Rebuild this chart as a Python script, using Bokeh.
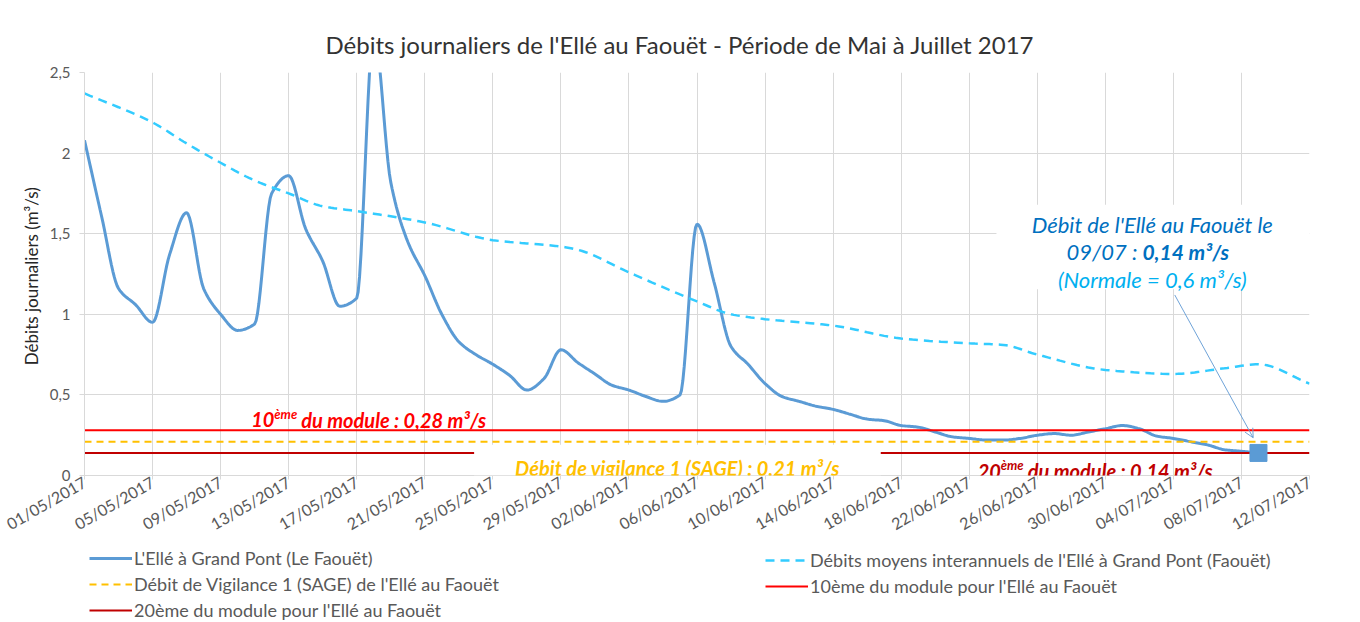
import math
from datetime import datetime
from bokeh.plotting import figure
from bokeh.layouts import column
from bokeh.models import (Range1d, FixedTicker, DatetimeTickFormatter, Legend, LegendItem,
                          Label, Arrow, OpenHead, BoxAnnotation)
from bokeh.embed import file_html
from bokeh.resources import INLINE

# ---------------- data ----------------
TITLE = "Débits journaliers de l'Ellé au Faouët - Période de Mai à Juillet 2017"
Y_LABEL = "Débits journaliers  (m³/s)"

FLOW_START = "01/05/2017"
# daily flow, L'Ellé à Grand Pont, 01/05/2017 -> 09/07/2017
FLOW_ELLE = [2.08, 1.61, 1.16, 1.06, 0.95, 1.37, 1.63, 1.16, 1.00, 0.90,
             0.94, 1.75, 1.86, 1.53, 1.33, 1.05, 1.10, 2.75, 1.82, 1.45,
             1.24, 1.00, 0.83, 0.75, 0.69, 0.62, 0.53, 0.60, 0.78, 0.70,
             0.63, 0.56, 0.53, 0.49, 0.46, 0.50, 1.56, 1.20, 0.80, 0.69,
             0.57, 0.49, 0.46, 0.43, 0.41, 0.38, 0.35, 0.34, 0.31, 0.30,
             0.27, 0.24, 0.23, 0.22, 0.22, 0.23, 0.25, 0.26, 0.25, 0.27,
             0.29, 0.31, 0.29, 0.245, 0.23, 0.21, 0.19, 0.16, 0.15, 0.14]

NORMAL_DATES = ["01/05/2017", "05/05/2017", "07/05/2017", "09/05/2017", "11/05/2017",
                "13/05/2017", "15/05/2017", "17/05/2017", "21/05/2017", "25/05/2017",
                "29/05/2017", "30/05/2017", "02/06/2017", "06/06/2017", "08/06/2017",
                "10/06/2017", "14/06/2017", "18/06/2017", "22/06/2017", "24/06/2017",
                "26/06/2017", "30/06/2017", "04/07/2017", "07/07/2017", "09/07/2017",
                "12/07/2017"]
NORMAL_FLOW = [2.37, 2.19, 2.06, 1.94, 1.83, 1.75, 1.67, 1.64, 1.57, 1.46,
               1.42, 1.40, 1.26, 1.08, 1.00, 0.97, 0.93, 0.85, 0.82, 0.81,
               0.75, 0.655, 0.63, 0.665, 0.69, 0.57]

VIGILANCE = 0.21
MODULE_10 = 0.28
MODULE_20 = 0.14

X_TICKS = ["01/05/2017", "05/05/2017", "09/05/2017", "13/05/2017", "17/05/2017",
           "21/05/2017", "25/05/2017", "29/05/2017", "02/06/2017", "06/06/2017",
           "10/06/2017", "14/06/2017", "18/06/2017", "22/06/2017", "26/06/2017",
           "30/06/2017", "04/07/2017", "08/07/2017", "12/07/2017"]
Y_TICKS = [0, 0.5, 1, 1.5, 2, 2.5]
Y_TICK_LABELS = ["0", "0,5", "1", "1,5", "2", "2,5"]

SERIES = ["L'Ellé à Grand Pont (Le Faouët)",
          "Débits moyens interannuels de l'Ellé à Grand Pont (Faouët)",
          "Débit de Vigilance 1 (SAGE) de l'Ellé au Faouët",
          "10ème du module pour l'Ellé au Faouët",
          "20ème du module pour l'Ellé au Faouët"]

# ---------------- helpers ----------------
DAY_MS = 86400000.0
EPOCH = datetime(1970, 1, 1)


def to_ms(s):
    return (datetime.strptime(s, "%d/%m/%Y") - EPOCH).total_seconds() * 1000.0


START_MS = to_ms(FLOW_START)


def day_ms(d):
    return START_MS + d * DAY_MS


def smooth(xd, yd, n=12):
    """monotone cubic (PCHIP) smoothing of the polyline, for a smoothed-line look"""
    m = len(xd)
    h = [xd[i + 1] - xd[i] for i in range(m - 1)]
    d = [(yd[i + 1] - yd[i]) / h[i] for i in range(m - 1)]
    tang = [0.0] * m
    tang[0] = d[0]
    tang[-1] = d[-1]
    for k in range(1, m - 1):
        if d[k - 1] * d[k] <= 0:
            tang[k] = 0.0
        else:
            w1 = 2 * h[k] + h[k - 1]
            w2 = h[k] + 2 * h[k - 1]
            tang[k] = (w1 + w2) / (w1 / d[k - 1] + w2 / d[k])
    xs, ys = [], []
    for i in range(m - 1):
        hi = h[i]
        for k in range(n):
            t = k / n
            h00 = 2 * t**3 - 3 * t**2 + 1
            h10 = t**3 - 2 * t**2 + t
            h01 = -2 * t**3 + 3 * t**2
            h11 = t**3 - t**2
            xs.append(xd[i] + t * hi)
            ys.append(h00 * yd[i] + h10 * hi * tang[i] + h01 * yd[i + 1] + h11 * hi * tang[i + 1])
    xs.append(xd[-1])
    ys.append(yd[-1])
    return xs, ys


flow_days = [float(i) for i in range(len(FLOW_ELLE))]
fx, fy = smooth(flow_days, FLOW_ELLE)
fx = [day_ms(v) for v in fx]

norm_days = [(to_ms(s) - START_MS) / DAY_MS for s in NORMAL_DATES]
nx, ny = smooth(norm_days, NORMAL_FLOW)
nx = [day_ms(v) for v in nx]

x0 = to_ms(X_TICKS[0])
x1 = to_ms(X_TICKS[-1])

FONT = "Lato"
C_FLOW = "#5b9bd5"
C_NORM = "#33ccff"
C_VIG = "#ffc000"
C_M10 = "#ff0000"
C_M20 = "#c00000"

# ---------------- main figure ----------------
p = figure(width=1360, height=544, x_axis_type="datetime",
           output_backend="svg", toolbar_location=None,
           x_range=Range1d(x0, x1), y_range=Range1d(0, 2.5),
           min_border_left=84, min_border_right=51, min_border_top=72,
           min_border_bottom=66)
p.outline_line_color = None

p.title.text = TITLE
p.title.align = "left"
p.title.offset = 241
p.title.standoff = 27
p.title.text_font = FONT
p.title.text_font_size = "24px"
p.title.text_font_style = "normal"
p.title.text_color = "#333333"

tick_ms = [to_ms(s) for s in X_TICKS]
p.xaxis.ticker = FixedTicker(ticks=tick_ms)
p.xgrid.ticker = FixedTicker(ticks=tick_ms)
fmt = "%d/%m/%Y"
p.xaxis.formatter = DatetimeTickFormatter(days=fmt, months=fmt, years=fmt, hours=fmt,
                                          minutes=fmt, seconds=fmt, milliseconds=fmt,
                                          minsec=fmt, hourmin=fmt)
p.xaxis.major_label_orientation = math.pi / 6
p.yaxis.ticker = FixedTicker(ticks=Y_TICKS)
p.yaxis.major_label_overrides = {t: l for t, l in zip(Y_TICKS, Y_TICK_LABELS)}
p.ygrid.ticker = FixedTicker(ticks=Y_TICKS)

for ax in (p.xaxis, p.yaxis):
    ax.axis_line_color = "#d9d9d9"
    ax.major_tick_line_color = "#d9d9d9"
    ax.minor_tick_line_color = None
    ax.major_tick_out = 5
    ax.major_tick_in = 0
    ax.major_label_text_font = FONT
    ax.major_label_text_color = "#595959"
p.xaxis.major_label_text_font_size = "16px"
p.xaxis.major_label_standoff = 1
p.xaxis.major_tick_out = 4
p.yaxis.major_label_text_font_size = "15px"
p.yaxis.major_label_standoff = 9

p.yaxis.axis_label = Y_LABEL
p.yaxis.axis_label_text_font = FONT
p.yaxis.axis_label_text_font_size = "17px"
p.yaxis.axis_label_text_font_style = "normal"
p.yaxis.axis_label_text_color = "#262626"
p.yaxis.axis_label_standoff = 5

p.xgrid.grid_line_color = "#d9d9d9"
p.ygrid.grid_line_color = "#d9d9d9"

# ---------------- series ----------------
p.line(fx, fy, line_color=C_FLOW, line_width=3)
p.line(nx, ny, line_color=C_NORM, line_width=2.5, line_dash="9 6")
p.line([x0, x1], [VIGILANCE, VIGILANCE], line_color=C_VIG, line_width=2, line_dash="7 5")
p.line([x0, x1], [MODULE_10, MODULE_10], line_color=C_M10, line_width=2)
p.line([x0, x1], [MODULE_20, MODULE_20], line_color=C_M20, line_width=2)

# white text boxes (hide gridlines / line behind texts)
p.add_layout(BoxAnnotation(left=day_ms(22.9), right=day_ms(46.8), top=0.19,
                           fill_color="white", fill_alpha=1, line_color=None))
p.add_layout(BoxAnnotation(left=day_ms(53.6), right=x1, top=1.68, bottom=1.155,
                           fill_color="white", fill_alpha=1, line_color=None))

last_x = day_ms(flow_days[-1])
p.scatter([last_x], [FLOW_ELLE[-1]], marker="square", size=17,
          fill_color=C_FLOW, line_color=C_FLOW)


# ---------------- annotations ----------------
def lab(x, y, text, color, size="20px", style="bold italic", align="left",
        xo=0, yo=0):
    p.add_layout(Label(x=x, y=y, text=text, text_color=color, text_font=FONT,
                       text_font_size=size, text_font_style=style, text_align=align,
                       text_baseline="alphabetic", x_offset=xo, y_offset=yo))


BLUE = "#0070c0"
CYAN = "#00b0f0"

lab(day_ms(9.8), 0.347, "10", C_M10)
lab(day_ms(9.8), 0.347, "ème", C_M10, size="13px", xo=23, yo=6)
lab(day_ms(9.8), 0.347, "du module : 0,28 m³/s", C_M10, xo=50)

lab(day_ms(34.85), 0.048, "Débit de vigilance 1 (SAGE) : 0,21 m³/s", C_VIG, align="center")

lab(day_ms(52.5), 0.027, "20", C_M20)
lab(day_ms(52.5), 0.027, "ème", C_M20, size="13px", xo=23, yo=6)
lab(day_ms(52.5), 0.027, "du module : 0,14 m³/s", C_M20, xo=50)

lab(day_ms(62.76), 1.558, "Débit de l'Ellé au Faouët le", BLUE, size="22px",
    style="italic", align="center")
lab(day_ms(62.18), 1.387, "09/07 :", BLUE, size="22px", style="italic", align="right", xo=-5)
lab(day_ms(62.18), 1.387, "0,14 m³/s", BLUE, size="21px", style="bold italic", align="left")
lab(day_ms(62.76), 1.215, "(Normale = 0,6 m³/s)", CYAN, size="22px", style="italic",
    align="center")

p.add_layout(Arrow(end=OpenHead(size=9, line_color="#6fa3d8", line_width=1),
                   x_start=day_ms(64.08), y_start=1.12,
                   x_end=day_ms(68.69), y_end=0.234,
                   line_color="#6fa3d8", line_width=1))

# ---------------- legend (separate strip below the chart) ----------------
q = figure(width=1360, height=78, output_backend="svg", toolbar_location=None,
           x_range=Range1d(0, 1), y_range=Range1d(0, 1),
           x_axis_location=None, y_axis_location=None, min_border=0)
q.outline_line_color = None
q.xgrid.visible = False
q.ygrid.visible = False

NAN = [float("nan")]
g_flow = q.line(NAN, NAN, line_color=C_FLOW, line_width=3)
g_norm = q.line(NAN, NAN, line_color=C_NORM, line_width=2.5, line_dash="9 6")
g_vig = q.line(NAN, NAN, line_color=C_VIG, line_width=2, line_dash="7 5")
g_m10 = q.line(NAN, NAN, line_color=C_M10, line_width=2)
g_m20 = q.line(NAN, NAN, line_color=C_M20, line_width=2)

common = dict(spacing=4, glyph_width=43, glyph_height=20, label_height=20,
              label_standoff=2, label_text_font=FONT, label_text_font_size="18px",
              label_text_color="#595959", border_line_color=None,
              background_fill_alpha=0, margin=0, padding=0, orientation="vertical")
leg1 = Legend(items=[LegendItem(label=SERIES[0], renderers=[g_flow]),
                     LegendItem(label=SERIES[2], renderers=[g_vig]),
                     LegendItem(label=SERIES[4], renderers=[g_m20])],
              location=(5, 1), **common)
leg2 = Legend(items=[LegendItem(label=SERIES[1], renderers=[g_norm]),
                     LegendItem(label=SERIES[3], renderers=[g_m10])],
              location=(681, 25), **common)
q.add_layout(leg1, "center")
q.add_layout(leg2, "center")

layout = column(p, q, spacing=0)
open("out.html", "w").write(file_html(layout, INLINE))
